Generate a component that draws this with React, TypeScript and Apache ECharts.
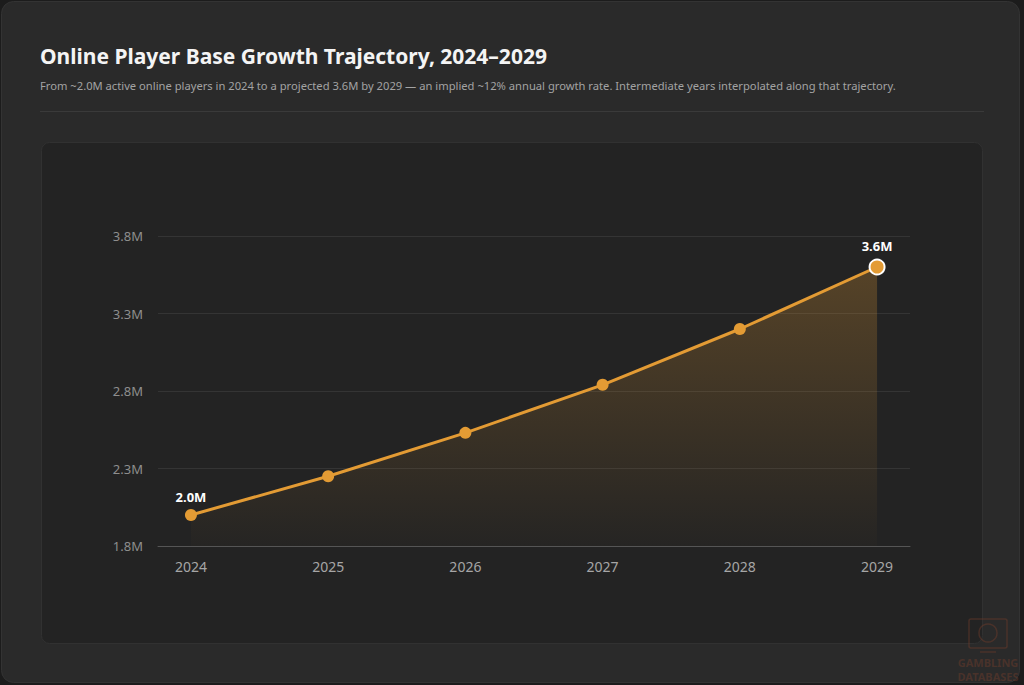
import { useEffect, useRef } from 'react';
import * as echarts from 'echarts';

const years = ['2024', '2025', '2026', '2027', '2028', '2029'];
// active online players, millions
const players = [2.0, 2.25, 2.53, 2.84, 3.2, 3.6];
const yMin = 1.8;
const yMax = 3.8;
const yStep = 0.5;

const TITLE = 'Online Player Base Growth Trajectory, 2024–2029';
const SUBTITLE =
  'From ~2.0M active online players in 2024 to a projected 3.6M by 2029 — an implied ~12% annual growth rate. Intermediate years interpolated along that trajectory.';

const FONT = '"Noto Sans", "Open Sans", sans-serif';
const GOLD = '#E39B34';
const MARK = 'rgba(120, 62, 44, 0.42)';

export default function App() {
  const chartRef = useRef<HTMLDivElement>(null);

  useEffect(() => {
    document.body.style.margin = '0';
    document.body.style.background = '#1c1c1c';
    if (!chartRef.current) return;

    const chart = echarts.init(chartRef.current, null, { renderer: 'svg' });
    const last = players.length - 1;

    const option: echarts.EChartsOption = {
      animation: false,
      backgroundColor: '#1c1c1c',
      textStyle: { fontFamily: FONT },
      graphic: {
        elements: [
          {
            type: 'rect',
            z: -20,
            shape: { x: 1.5, y: 1.5, width: 1018, height: 681, r: 12 },
            style: { fill: '#2a2a2a', stroke: '#333333', lineWidth: 1 },
          },
          {
            type: 'line',
            z: -19,
            shape: { x1: 40, y1: 111.5, x2: 984, y2: 111.5 },
            style: { stroke: '#3a3a3a', lineWidth: 1 },
          },
          {
            type: 'rect',
            z: -19,
            shape: { x: 41.5, y: 142.5, width: 941, height: 501, r: 8 },
            style: { fill: '#232323', stroke: '#313131', lineWidth: 1 },
          },
          {
            type: 'text',
            z: 10,
            x: 40,
            y: 56,
            style: {
              text: TITLE,
              fill: '#f4f4f4',
              font: `bold 21px ${FONT}`,
              verticalAlign: 'middle',
            },
          },
          {
            type: 'text',
            z: 10,
            x: 40,
            y: 85,
            style: {
              text: SUBTITLE,
              fill: '#a3a3a3',
              font: `11.2px ${FONT}`,
              verticalAlign: 'middle',
            },
          },
          // faint watermark, bottom right
          {
            type: 'rect',
            z: 10,
            shape: { x: 969, y: 619, width: 38, height: 29, r: 2 },
            style: { fill: 'none', stroke: MARK, lineWidth: 1.5 },
          },
          {
            type: 'circle',
            z: 10,
            shape: { cx: 988, cy: 633, r: 9 },
            style: { fill: 'none', stroke: MARK, lineWidth: 1.5 },
          },
          {
            type: 'line',
            z: 10,
            shape: { x1: 980, y1: 652, x2: 996, y2: 652 },
            style: { stroke: MARK, lineWidth: 1.5 },
          },
          {
            type: 'text',
            z: 10,
            x: 988,
            y: 662,
            style: {
              text: 'GAMBLING',
              fill: MARK,
              font: `bold 11px ${FONT}`,
              align: 'center',
              verticalAlign: 'middle',
            },
          },
          {
            type: 'text',
            z: 10,
            x: 988,
            y: 676,
            style: {
              text: 'DATABASES',
              fill: MARK,
              font: `bold 11px ${FONT}`,
              align: 'center',
              verticalAlign: 'middle',
            },
          },
        ],
      },
      grid: {
        left: 158,
        right: 114,
        top: 236,
        bottom: 139,
        containLabel: false,
      },
      xAxis: {
        type: 'value',
        min: -0.24,
        max: last + 0.24,
        axisLine: { show: true, lineStyle: { color: '#555555', width: 1 } },
        axisTick: { show: false },
        splitLine: { show: false },
        axisLabel: {
          color: '#a6a6a6',
          fontSize: 14,
          margin: 13,
          showMinLabel: false,
          showMaxLabel: false,
          formatter: (v: number) => {
            const i = Math.round(v);
            return Math.abs(v - i) < 1e-6 && years[i] ? years[i] : '';
          },
        },
      },
      yAxis: {
        type: 'value',
        min: yMin,
        max: yMax,
        interval: yStep,
        axisLine: { show: false },
        axisTick: { show: false },
        splitLine: { lineStyle: { color: '#343434', width: 1 } },
        axisLabel: {
          color: '#8e8e8e',
          fontSize: 13,
          margin: 15,
          formatter: (v: number) => `${v.toFixed(1)}M`,
        },
      },
      series: [
        {
          type: 'line',
          symbol: 'circle',
          symbolSize: 12,
          showSymbol: true,
          data: players.map((v, i) => ({
            value: [i, v],
            symbolSize: i === last ? 15 : 12,
            itemStyle:
              i === last
                ? { color: GOLD, borderColor: '#ffffff', borderWidth: 2 }
                : { color: GOLD },
            label: { show: i === 0 || i === last },
          })),
          lineStyle: { color: GOLD, width: 3 },
          itemStyle: { color: GOLD },
          label: {
            show: false,
            position: 'top',
            distance: 6,
            color: '#ffffff',
            fontWeight: 'bold',
            fontSize: 13,
            fontFamily: FONT,
            formatter: (p: any) => `${p.value[1].toFixed(1)}M`,
          },
          areaStyle: {
            origin: 'start',
            color: {
              type: 'linear',
              x: 0,
              y: 0,
              x2: 0,
              y2: 1,
              colorStops: [
                { offset: 0, color: 'rgba(227, 155, 52, 0.38)' },
                { offset: 1, color: 'rgba(227, 155, 52, 0.02)' },
              ],
            },
          },
        },
      ],
    };

    chart.setOption(option);

    return () => {
      chart.dispose();
    };
  }, []);

  return <div ref={chartRef} style={{ width: '1024px', height: '685px' }} />;
}
